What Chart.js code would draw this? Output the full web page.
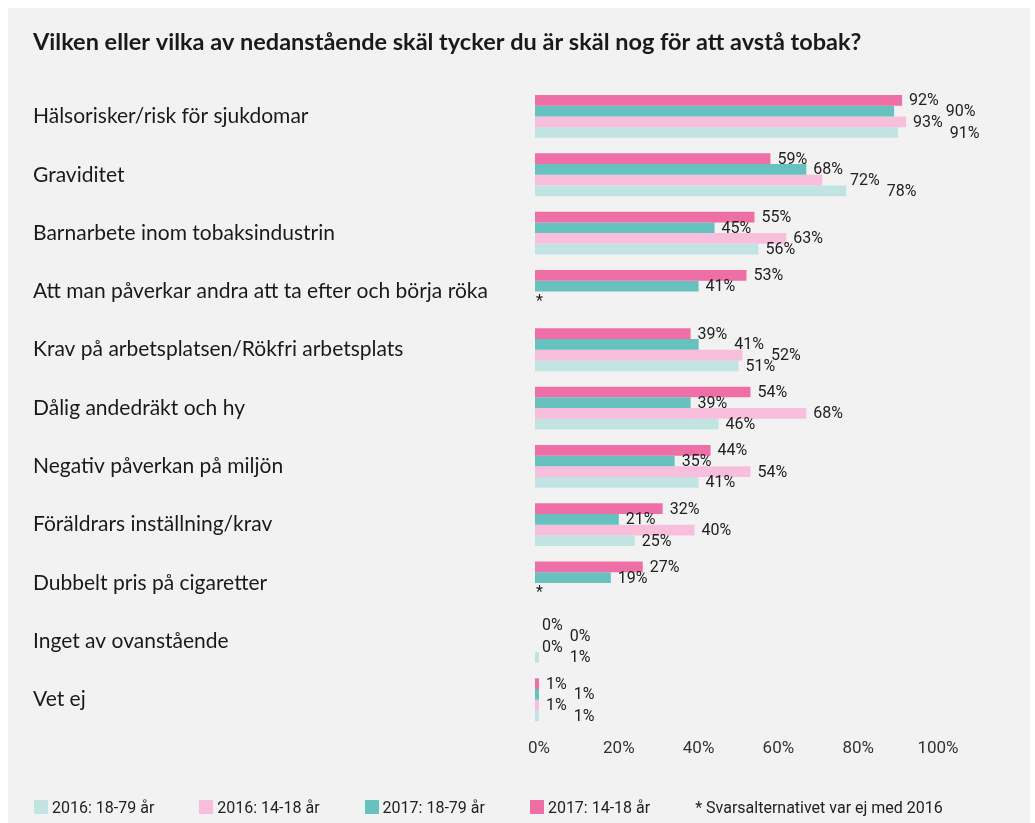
<!DOCTYPE html>
<html><head><meta charset="utf-8">
<script src="https://cdn.jsdelivr.net/npm/chart.js@4"></script>
<style>
html,body{margin:0;padding:0;background:#fff;}
#wrap{position:absolute;left:8px;top:8px;width:1022px;height:815px;background:#f2f2f2;}
canvas{display:block}
#legend{position:absolute;left:26px;top:789px;height:20px;display:flex;gap:45px;font:16px Roboto,sans-serif;color:#222;align-items:center;white-space:nowrap}
.item{display:flex;align-items:center}
.box{width:14px;height:14px;margin-right:4px}
</style></head>
<body><div id="wrap"><canvas id="c" width="1022" height="815"></canvas><div id="legend"></div></div>
<script>
const title = "Vilken eller vilka av nedanstående skäl tycker du är skäl nog för att avstå tobak?";
const categories = [
  "Hälsorisker/risk för sjukdomar",
  "Graviditet",
  "Barnarbete inom tobaksindustrin",
  "Att man påverkar andra att ta efter och börja röka",
  "Krav på arbetsplatsen/Rökfri arbetsplats",
  "Dålig andedräkt och hy",
  "Negativ påverkan på miljön",
  "Föräldrars inställning/krav",
  "Dubbelt pris på cigaretter",
  "Inget av ovanstående",
  "Vet ej"
];
const seriesNames = ["2017: 14-18 år", "2017: 18-79 år", "2016: 14-18 år", "2016: 18-79 år"];
const v2017_14_18 = [92, 59, 55, 53, 39, 54, 44, 32, 27, 0, 1];
const v2017_18_79 = [90, 68, 45, 41, 41, 39, 35, 21, 19, 0, 1];
const v2016_14_18 = [93, 72, 63, null, 52, 68, 54, 40, null, 0, 1];
const v2016_18_79 = [91, 78, 56, null, 51, 46, 41, 25, null, 1, 1];
const xTickValues = [0, 20, 40, 60, 80, 100];
const footnote = "* Svarsalternativet var ej med 2016";

const colors = ["#ee6fa6", "#66c1bf", "#f8bfdc", "#c1e3e2"];
const seriesValues = [v2017_14_18, v2017_18_79, v2016_14_18, v2016_18_79];

const labelPlugin = {
  id: 'valueLabels',
  afterDatasetsDraw(chart) {
    const ctx = chart.ctx;
    const xs = chart.scales.x;
    ctx.save();
    ctx.font = '16px Roboto, sans-serif';
    ctx.fillStyle = '#222';
    ctx.textBaseline = 'middle';
    ctx.textAlign = 'left';
    for (let i = 0; i < categories.length; i++) {
      let prev = null;
      for (let d = 0; d < chart.data.datasets.length; d++) {
        const val = chart.data.datasets[d].data[i];
        const meta = chart.getDatasetMeta(d);
        if (val === null || val === undefined) {
          if (d === 2) {
            const ref = chart.getDatasetMeta(1).data[i];
            const yRow = ref.y + ref.height;
            ctx.textBaseline = 'alphabetic';
            ctx.fillText('*', xs.getPixelForValue(0) + 1, yRow + 9);
            ctx.textBaseline = 'middle';
          }
          prev = null;
          continue;
        }
        const bar = meta.data[i];
        const txt = val + '%';
        const w = ctx.measureText(txt).width;
        let start = bar.x + 7;
        if (prev && start + w * 0.5 > prev.start && start < prev.end) {
          start = prev.end + 7;
        }
        ctx.fillText(txt, start, bar.y + 1);
        prev = {start: start, end: start + w};
      }
    }
    ctx.restore();
  }
};

const chart = new Chart(document.getElementById('c'), {
  type: 'bar',
  data: {
    labels: categories,
    datasets: seriesNames.map((n, k) => ({
      label: n,
      data: seriesValues[k],
      backgroundColor: colors[k],
      borderWidth: 0,
      categoryPercentage: 0.734,
      barPercentage: 1.0
    }))
  },
  options: {
    indexAxis: 'y',
    responsive: false,
    animation: false,
    layout: {padding: {left: 25, right: 96, bottom: 50, top: 0}},
    plugins: {
      legend: {display: false},
      tooltip: {enabled: false},
      title: {
        display: true,
        text: title,
        align: 'start',
        color: '#1a1a1a',
        font: {family: 'Lato, sans-serif', size: 23.5, weight: 'bold', lineHeight: 1.2},
        padding: {top: 19.9, bottom: 31.2}
      }
    },
    scales: {
      x: {
        min: 0, max: 100,
        afterBuildTicks: (s) => { s.ticks = xTickValues.map(v => ({value: v})); },
        afterFit: (s) => { s.height = 44.2; },
        grid: {display: false, drawTicks: false},
        border: {display: false},
        ticks: {
          padding: 10,
          labelOffset: 4,
          color: '#333',
          font: {family: 'Roboto, sans-serif', size: 17},
          callback: (v) => v + '%'
        }
      },
      y: {
        afterFit: (s) => { s.width = 502; },
        grid: {display: false, drawTicks: false},
        border: {display: false},
        ticks: {
          crossAlign: 'far',
          color: '#1a1a1a',
          font: {family: 'Lato, sans-serif', size: 21}
        }
      }
    }
  },
  plugins: [labelPlugin]
});

// HTML legend (order as in reference)
const legend = document.getElementById('legend');
[3, 2, 1, 0].forEach(k => {
  const it = document.createElement('div');
  it.className = 'item';
  const b = document.createElement('span');
  b.className = 'box';
  b.style.background = colors[k];
  const t = document.createElement('span');
  t.textContent = seriesNames[k];
  it.appendChild(b); it.appendChild(t);
  legend.appendChild(it);
});
const fn = document.createElement('div');
fn.className = 'item';
fn.textContent = footnote;
legend.appendChild(fn);
</script>
</body></html>
